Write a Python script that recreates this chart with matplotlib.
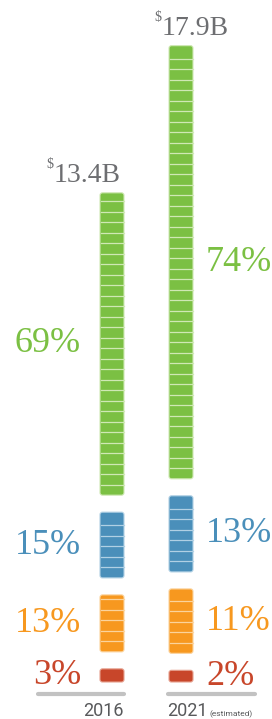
import matplotlib
matplotlib.use("Agg")
import matplotlib.pyplot as plt
from matplotlib.patches import FancyBboxPatch

# data
years = ["2016", "2021"]
totals = [13.4, 17.9]          # $B
shares_2016 = [3, 13, 15, 69]  # red, orange, blue, green (bottom -> top)
shares_2021 = [2, 11, 13, 74]
colors = ["#c8462a", "#f7981f", "#4a8fba", "#7bc043"]
stripe_cols = ["#e6a08e", "#fbd39c", "#b0d0e4", "#cfe8b4"]

k = 32.7        # pixels per $B
gap = 17 / k
stripe = 10.5 / k

fig = plt.figure(figsize=(2.72, 7.19), dpi=100)
ax = fig.add_axes([0, 0, 1, 1])
ax.set_xlim(0, 272)
ax.set_ylim(-37 / k, 682 / k)
ax.axis("off")

bar_x = [100, 169]
bar_w = 24
serif = "Liberation Serif"
sans = ["Roboto", "DejaVu Sans"]
grey = "#6d6e71"

for i, (tot, shares) in enumerate(zip(totals, [shares_2016, shares_2021])):
    x0 = bar_x[i]
    y = 0
    for j, s in enumerate(shares):
        h = tot * s / 100
        p = FancyBboxPatch((x0, y), bar_w, h, boxstyle="round,pad=0,rounding_size=2.5",
                           mutation_aspect=1 / k, fc=colors[j], ec=stripe_cols[j], lw=0.8)
        ax.add_patch(p)
        yy = y + stripe
        while yy < y + h - stripe * 0.4:
            ax.plot([x0 + 0.5, x0 + bar_w - 0.5], [yy, yy], color=stripe_cols[j], lw=0.9)
            yy += stripe
        cy = y + h / 2
        if i == 0:
            ax.text(81, cy, f"{s}%", ha="right", va="center", color=colors[j],
                    fontsize=26, family=serif)
        else:
            ax.text(206, cy, f"{s}%", ha="left", va="center", color=colors[j],
                    fontsize=26, family=serif)
        y += h + gap
    top = y - gap
    # total label with superscript dollar sign
    lx = 121 if i == 0 else 229
    t = ax.text(lx, top + 11 / k, f"{tot}B", ha="right", va="baseline", color=grey,
                fontsize=20, family=serif)
    fig.canvas.draw()
    bb = t.get_window_extent().transformed(ax.transData.inverted())
    ax.text(bb.x0 - 0.5, top + 25 / k, "$", ha="right", va="baseline", color=grey,
            fontsize=10, family=serif)

# baselines
ax.plot([38, 124], [-12 / k, -12 / k], color="#c2c2c2", lw=3, solid_capstyle="round")
ax.plot([168, 255], [-12 / k, -12 / k], color="#c2c2c2", lw=3, solid_capstyle="round")

ax.text(124, -34 / k, years[0], ha="right", va="baseline", color="#58595b",
        fontsize=13, family=sans)
t2 = ax.text(167, -34 / k, years[1], ha="left", va="baseline", color="#58595b",
             fontsize=13, family=sans)
fig.canvas.draw()
bb2 = t2.get_window_extent().transformed(ax.transData.inverted())
ax.text(bb2.x1 + 2, -34 / k, "(estimated)", ha="left", va="baseline", color="#58595b",
        fontsize=6, family=sans)

fig.savefig("out.png", dpi=100)
